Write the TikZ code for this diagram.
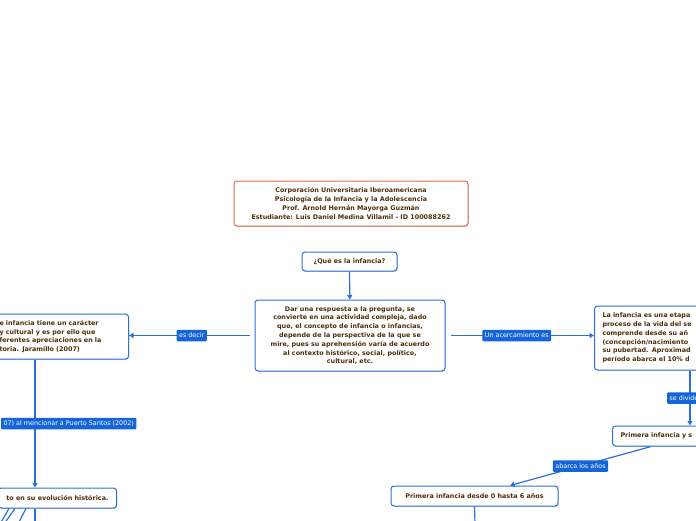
\documentclass[tikz,border=0pt]{standalone}
\usepackage{fontspec}
\setmainfont{DejaVu Sans}
\usetikzlibrary{arrows.meta,shadows}
\definecolor{ink}{HTML}{4E2F08}
\definecolor{link}{HTML}{2C6FD9}
\definecolor{tagblue}{HTML}{1565D8}
\definecolor{coral}{HTML}{E0684E}
\tikzset{
  base/.style={font=\fontsize{6.4}{8.8}\selectfont\bfseries,text=ink,align=center,rounded corners=3pt,draw=link,line width=1pt,fill=white,inner sep=4pt,drop shadow={shadow xshift=0.6pt,shadow yshift=-0.9pt,opacity=0.2,fill=black}},
  titlebox/.style={base,draw=coral},
  topic/.style={base},
  cutleft/.style={base,align=left,anchor=east,inner xsep=4pt},
  cutright/.style={base,align=left,anchor=west,inner xsep=8pt},
  tag/.style={font=\fontsize{6.4}{7}\selectfont,text=white,fill=tagblue,rounded corners=1pt,inner xsep=2.5pt,inner ysep=0pt,minimum height=11.5pt},
  flow/.style={-{Triangle[length=4.5pt,width=5pt]},line width=1.2pt,draw=link},
  stub/.style={line width=1.2pt,draw=link}
}
\begin{document}
\begin{tikzpicture}[x=1pt,y=-1pt]
\useasboundingbox (0,0) rectangle (696,520);
% centre
\node[titlebox,minimum width=234pt,minimum height=45pt] (titulo) at (351,203.5) {Corporación Universitaria Iberoamericana\\Psicología de la Infancia y la Adolescencia\\Prof. Arnold Hernán Mayorga Guzmán\\Estudiante: Luis Daniel Medina Villamil - ID 100088262};
\node[topic,minimum width=95pt,minimum height=19pt] (pregunta) at (349.5,261.5) {¿Qué es la infancia?};
\node[topic,minimum width=190pt,minimum height=71pt] (respuesta) at (350,335.5) {Dar una respuesta a la pregunta, se\\convierte en una actividad compleja, dado\\que, el concepto de infancia o infancias,\\depende de la perspectiva de la que se\\mire, pues su aprehensión varía de acuerdo\\al contexto histórico, social, político,\\cultural, etc.};
% left branch
\node[cutleft,text width=125pt,minimum height=45pt] (caracter) at (129,336.5) {e infancia tiene un carácter\\y cultural y es por ello que\\ferentes apreciaciones en la\\toria. Jaramillo (2007)};
\node[cutleft,inner xsep=8pt,minimum height=20pt] (historia) at (117,498) {to en su evolución histórica.};
% right branch
\node[cutright,text width=120pt,minimum height=64pt] (etapa) at (594,338) {La infancia es una etapa\\proceso de la vida del se\\comprende desde su añ\\(concepción/nacimiento\\su pubertad. Aproximad\\período abarca el 10\% d};
\node[cutright,text width=90pt,minimum height=20pt] (primeras) at (612,436) {Primera infancia y s};
\node[topic,minimum width=167pt,minimum height=20pt] (primera) at (474.5,496) {Primera infancia desde 0 hasta 6 años};
\coordinate (ejeizq) at (35,0);
\coordinate (ejeder) at (690,0);
\coordinate (abajo) at (475,524);

\draw[flow] (pregunta) -- (respuesta);
\draw[flow,shorten <=5pt] (respuesta.west) -- node[tag]{es decir} (caracter.east |- respuesta.west);
\draw[flow,shorten <=5pt] (respuesta.east) -- node[tag,xshift=-3pt]{Un acercamiento es} (etapa.west |- respuesta.east);
\draw[flow] (caracter.south -| ejeizq) -- node[tag,anchor=east,xshift=102pt]{07) al mencionar a Puerto Santos (2002)} (historia.north -| ejeizq);
\draw[flow] (etapa.south -| ejeder) -- node[tag,xshift=-6pt]{se divide} (primeras.north -| ejeder);
\draw[flow] ([xshift=39pt]primeras.south west) -- node[tag]{abarca los años} ([xshift=35.5pt]primera.north);
\draw[stub] (primera.south) -- (abajo);
\foreach \a/\b [count=\i] in {9/0,15/4,26/18,35/35}{
  \coordinate (hoja\i) at (\b,524);
  \draw[stub] ([xshift=\a pt-117pt]historia.south east) -- (hoja\i);
}
\end{tikzpicture}
\end{document}
